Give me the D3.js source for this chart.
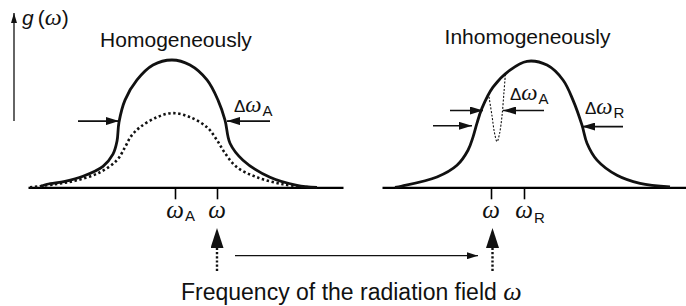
<!DOCTYPE html>
<html>
<head>
<meta charset="utf-8">
<script src="https://cdn.jsdelivr.net/npm/d3@7"></script>
<style>
  body { margin: 0; background: #fff; }
  text { font-family: "Liberation Sans", Arial, sans-serif; fill: #111; }
  .sym { font-family: "Liberation Serif", "Times New Roman", serif; font-style: italic; }
</style>
</head>
<body>
<svg id="chart"></svg>
<script>
// line shapes: [detuning from line centre, relative g(ω)]
var homTotal = [[-13.5, 0.004], [-12.8, 0.024], [-11, 0.047], [-9.2, 0.087], [-7.2, 0.165],
  [-6.2, 0.26], [-5.8, 0.362], [-5.6, 0.512], [-5.0, 0.685], [-3.8, 0.843], [-2.2, 0.96],
  [-0.3, 1.0], [1.5, 0.96], [3.2, 0.843], [4.3, 0.685], [5.0, 0.528], [5.5, 0.346],
  [6.8, 0.213], [9.5, 0.079], [12.2, 0.016], [14.2, 0]];
var homSaturated = [[-14.5, 0], [-12, 0.024], [-9.8, 0.055], [-7.5, 0.118], [-5.8, 0.213],
  [-5.0, 0.315], [-4.4, 0.4], [-3.5, 0.472], [-1.8, 0.551], [-0.2, 0.583], [1.5, 0.551],
  [3.2, 0.472], [4.2, 0.37], [5.0, 0.268], [6.2, 0.157], [8.2, 0.079], [10.8, 0.024], [13.5, 0]];
var inhomTotal = [[-12.9, 0], [-12.2, 0.01], [-8.7, 0.081], [-6.7, 0.173], [-5.6, 0.291],
  [-5.1, 0.394], [-4.7, 0.504], [-4.2, 0.622], [-3.1, 0.787], [-1.4, 0.921], [0.3, 0.99],
  [2.3, 0.96], [3.9, 0.843], [4.9, 0.685], [5.8, 0.488], [6.3, 0.346], [7.3, 0.213],
  [9.3, 0.094], [11.6, 0.031], [14.6, 0.003]];
var holeBurnt = [[-3.5, 0.711], [-3.2, 0.561], [-2.95, 0.428], [-2.7, 0.359], [-2.45, 0.42],
  [-2.2, 0.561], [-2.0, 0.75], [-1.85, 0.9]];

// ticks: left panel ωA, ω ; right panel ω, ωR
var leftTicks = [0, 4.2];
var rightTicks = [-3.3, 0];

// width markers [from, to, level]
var homWidth = [[-9.7, -5.6, 0.52], [9.5, 5.2, 0.52]];
var inhomWidth = [[-9.1, -5.2, 0.483], [9.9, 5.8, 0.477]];
var holeWidth = [[-7.4, -4.1, 0.603], [2.0, -2.1, 0.603]];

var W = 686, H = 306;
var svg = d3.select("#chart").attr("width", W).attr("height", H);

var xL = d3.scaleLinear().domain([-14.7, 16.8]).range([28, 343]);
var xR = d3.scaleLinear().domain([-14.2, 16.2]).range([382, 686]);
var y = d3.scaleLinear().domain([0, 1]).range([187.3, 60]);

var defs = svg.append("defs");
function marker(id, len, wid) {
  defs.append("marker")
      .attr("id", id)
      .attr("markerUnits", "userSpaceOnUse")
      .attr("markerWidth", len).attr("markerHeight", wid)
      .attr("refX", len).attr("refY", wid / 2)
      .attr("orient", "auto")
    .append("path")
      .attr("d", "M0,0L" + len + "," + wid / 2 + "L0," + wid + "Z")
      .attr("fill", "#111");
}
marker("head", 13, 8);
marker("small", 11, 7);
marker("axis", 10, 6);

// axes (baselines with ticks)
svg.append("g")
    .attr("transform", "translate(0," + y(0) + ")")
    .call(d3.axisBottom(xL).tickValues(leftTicks).tickSize(12).tickSizeOuter(0).tickFormat(""))
    .call(g => g.select(".domain").attr("stroke-width", 2.2));
svg.append("g")
    .attr("transform", "translate(0," + y(0) + ")")
    .call(d3.axisBottom(xR).tickValues(rightTicks).tickSize(12).tickSizeOuter(0).tickFormat(""))
    .call(g => g.select(".domain").attr("stroke-width", 2.2));
svg.selectAll(".tick line").attr("stroke-width", 1.6);

// y arrow
svg.append("line")
    .attr("x1", 14).attr("x2", 14).attr("y1", 121).attr("y2", 13)
    .attr("stroke", "#111").attr("stroke-width", 1.3)
    .attr("marker-end", "url(#axis)");
var gl = svg.append("text").attr("x", 22).attr("y", 25).attr("font-size", 21);
gl.append("tspan").attr("font-style", "italic").text("g");
gl.append("tspan").attr("dx", 4).text("(");
gl.append("tspan").attr("class", "sym").attr("font-size", 24).text("ω");
gl.append("tspan").text(")");

// curves
var lineL = d3.line().x(d => xL(d[0])).y(d => y(d[1])).curve(d3.curveCatmullRom.alpha(0.5));
var lineR = d3.line().x(d => xR(d[0])).y(d => y(d[1])).curve(d3.curveCatmullRom.alpha(0.5));

svg.append("path").attr("d", lineL(homSaturated))
    .attr("fill", "none").attr("stroke", "#111").attr("stroke-width", 2.6)
    .attr("stroke-dasharray", "2.4,2.6");
svg.append("path").attr("d", lineL(homTotal))
    .attr("fill", "none").attr("stroke", "#111").attr("stroke-width", 2.8);
svg.append("path").attr("d", lineR(inhomTotal))
    .attr("fill", "none").attr("stroke", "#111").attr("stroke-width", 2.8);
svg.append("path").attr("d", lineR(holeBurnt))
    .attr("fill", "none").attr("stroke", "#111").attr("stroke-width", 1.1)
    .attr("stroke-dasharray", "2,1.6");

// width arrows
function widthArrows(data, x) {
  svg.append("g").selectAll("line").data(data).enter().append("line")
      .attr("x1", d => x(d[0])).attr("x2", d => x(d[1]))
      .attr("y1", d => y(d[2])).attr("y2", d => y(d[2]))
      .attr("stroke", "#111").attr("stroke-width", 1.6)
      .attr("marker-end", "url(#head)");
}
widthArrows(homWidth, xL);
widthArrows(inhomWidth, xR);
widthArrows(holeWidth, xR);

function deltaLabel(x0, y0, sub) {
  var t = svg.append("text").attr("x", x0).attr("y", y0).attr("font-size", 17);
  t.append("tspan").text("Δ");
  t.append("tspan").attr("class", "sym").attr("font-size", 23).text("ω");
  t.append("tspan").attr("font-size", 15).attr("dx", 1).attr("dy", 4.5).text(sub);
}
deltaLabel(xL(5.9), y(0.594), "A");
deltaLabel(xR(-1.4), y(0.686), "A");
deltaLabel(xR(6.1), y(0.576), "R");

// titles
svg.append("text").attr("x", xL(0.1)).attr("y", 46.7).attr("text-anchor", "middle")
    .attr("font-size", 21).text("Homogeneously");
svg.append("text").attr("x", xR(0.35)).attr("y", 43.5).attr("text-anchor", "middle")
    .attr("font-size", 21).text("Inhomogeneously");

// tick labels
function tickLabel(x0, sub, subDy) {
  svg.append("text").attr("class", "sym").attr("x", x0).attr("y", 217.5)
      .attr("text-anchor", "middle").attr("font-size", 25).text("ω");
  if (sub) svg.append("text").attr("x", x0 + 10).attr("y", 217.5 + subDy)
      .attr("font-size", 15).text(sub);
}
tickLabel(xL(leftTicks[0]), "A", 3.5);
tickLabel(xL(leftTicks[1]));
tickLabel(xR(rightTicks[0]));
tickLabel(xR(rightTicks[1]), "R", 5.5);

// radiation field arrows
marker("up", 20, 13);
[xL(leftTicks[1]), xR(rightTicks[0]) + 1.5].forEach(function(px) {
  svg.append("line")
      .attr("x1", px).attr("x2", px).attr("y1", 271).attr("y2", 248)
      .attr("stroke", "#111").attr("stroke-width", 2.4)
      .attr("stroke-dasharray", "2.2,2");
  svg.append("line")
      .attr("x1", px).attr("x2", px).attr("y1", 248.5).attr("y2", 228)
      .attr("stroke", "none")
      .attr("marker-end", "url(#up)");
});
svg.append("line")
    .attr("x1", xL(leftTicks[1]) + 18).attr("x2", xR(rightTicks[0]) - 13)
    .attr("y1", 255.7).attr("y2", 255.7)
    .attr("stroke", "#111").attr("stroke-width", 1.3)
    .attr("marker-end", "url(#small)");

var cap = svg.append("text").attr("x", 181).attr("y", 300).attr("font-size", 23);
cap.append("tspan").text("Frequency of the radiation field ");
cap.append("tspan").attr("class", "sym").attr("font-size", 26).text("ω");
</script>
</body>
</html>
